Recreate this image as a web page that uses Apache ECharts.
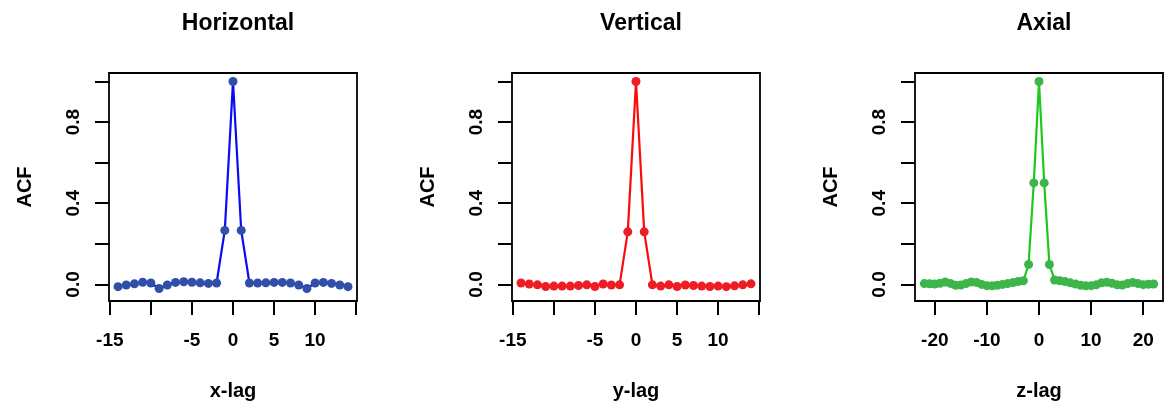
<!DOCTYPE html>
<html>
<head>
<meta charset="utf-8">
<script src="https://cdn.jsdelivr.net/npm/echarts@6/dist/echarts.min.js"></script>
<style>
  html, body { margin: 0; padding: 0; background: #fff; }
  #chart { width: 1169px; height: 411px; }
</style>
</head>
<body>
<div id="chart"></div>
<script>
// lags shown in each panel
const lagsXY = [-14, -13, -12, -11, -10, -9, -8, -7, -6, -5, -4, -3, -2, -1, 0,
  1, 2, 3, 4, 5, 6, 7, 8, 9, 10, 11, 12, 13, 14];
const lagsZ = [-22, -21, -20, -19, -18, -17, -16, -15, -14, -13, -12, -11, -10, -9, -8,
  -7, -6, -5, -4, -3, -2, -1, 0, 1, 2, 3, 4, 5, 6, 7, 8, 9, 10, 11, 12, 13, 14, 15,
  16, 17, 18, 19, 20, 21, 22];

// ACF values
const acfHorizontal = [-0.011, -0.003, 0.003, 0.011, 0.007, -0.020, -0.003, 0.010, 0.013,
  0.011, 0.008, 0.005, 0.007, 0.266, 1.0, 0.266, 0.007, 0.007, 0.008, 0.010, 0.010,
  0.007, -0.003, -0.020, 0.007, 0.010, 0.005, -0.003, -0.011];
const acfVertical = [0.007, 0.002, -0.002, -0.010, -0.008, -0.008, -0.008, -0.005, -0.002,
  -0.010, 0.002, -0.003, -0.002, 0.259, 1.0, 0.259, -0.002, -0.008, -0.002, -0.010,
  -0.003, -0.005, -0.008, -0.010, -0.008, -0.011, -0.007, -0.002, 0.003];
const acfAxial = [0.004, 0.003, 0.002, 0.006, 0.012, 0.005, -0.004, -0.003, 0.004, 0.012,
  0.010, 0.000, -0.006, -0.007, -0.004, 0.000, 0.004, 0.009, 0.014, 0.018, 0.098, 0.500,
  1.0, 0.500, 0.098, 0.022, 0.018, 0.014, 0.008, 0.002, -0.004, -0.007, -0.006, -0.002,
  0.008, 0.011, 0.006, -0.002, -0.003, 0.004, 0.010, 0.004, -0.001, 0.001, 0.002];

const titles = ['Horizontal', 'Vertical', 'Axial'];
const xNames = ['x-lag', 'y-lag', 'z-lag'];
const yTicks = [0, 0.2, 0.4, 0.6, 0.8, 1.0];
const yLabels = [0, 0.4, 0.8];
const xTicksXY = [-15, -10, -5, 0, 5, 10, 15];
const xLabelsXY = [-15, -5, 0, 5, 10];
const xTicksZ = [-20, -10, 0, 10, 20];

const FONT = '"Liberation Sans", Arial, Helvetica, sans-serif';
const lefts = [109, 512, 915];
const W = 248;

const panels = [
  { lags: lagsXY, vals: acfHorizontal, ext: 15.1, ticks: xTicksXY, labels: xLabelsXY,
    line: '#0a0af5', point: '#2f4fa8' },
  { lags: lagsXY, vals: acfVertical, ext: 15.1, ticks: xTicksXY, labels: xLabelsXY,
    line: '#ff0a0a', point: '#ee1c25' },
  { lags: lagsZ, vals: acfAxial, ext: 23.8, ticks: xTicksZ, labels: xTicksZ,
    line: '#1ec81e', point: '#3db54a' }
];

const chart = echarts.init(document.getElementById('chart'), null, { renderer: 'canvas' });

const option = {
  animation: false,
  backgroundColor: '#fff',
  title: titles.map((t, i) => ({
    text: t,
    left: lefts[i] + W / 2,
    top: 7,
    textAlign: 'center',
    textStyle: { fontFamily: FONT, fontWeight: 'bold', fontSize: 23, color: '#000' }
  })),
  grid: panels.map((p, i) => ({
    left: lefts[i], top: 73, width: W, height: 228,
    show: true, borderColor: '#000', borderWidth: 1.8, backgroundColor: 'transparent'
  })),
  xAxis: panels.map((p, i) => ({
    type: 'value', gridIndex: i, min: -p.ext, max: p.ext, position: 'bottom',
    name: xNames[i], nameLocation: 'middle', nameGap: 80,
    nameTextStyle: { fontFamily: FONT, fontWeight: 'bold', fontSize: 20, color: '#000' },
    axisLine: { show: false, onZero: false },
    splitLine: { show: false },
    axisTick: { show: true, inside: false, length: 14, customValues: p.ticks,
      lineStyle: { color: '#000', width: 2 } },
    axisLabel: { customValues: p.labels, margin: 30,
      fontFamily: FONT, fontWeight: 'bold', fontSize: 19, color: '#000' }
  })),
  yAxis: panels.map((p, i) => ({
    type: 'value', gridIndex: i, min: -0.0816, max: 1.0416, position: 'left',
    name: 'ACF', nameLocation: 'middle', nameGap: 74, nameRotate: 90,
    nameTextStyle: { fontFamily: FONT, fontWeight: 'bold', fontSize: 20, color: '#000' },
    axisLine: { show: false, onZero: false },
    splitLine: { show: false },
    axisTick: { show: true, inside: false, length: 14, customValues: yTicks,
      lineStyle: { color: '#000', width: 2 } },
    axisLabel: { customValues: yLabels, rotate: 90, margin: 26,
      formatter: v => v.toFixed(1),
      fontFamily: FONT, fontWeight: 'bold', fontSize: 19, color: '#000' }
  })),
  series: panels.map((p, i) => ({
    type: 'line', xAxisIndex: i, yAxisIndex: i,
    data: p.lags.map((l, k) => [l, p.vals[k]]),
    symbol: 'circle', symbolSize: 9, showSymbol: true,
    lineStyle: { color: p.line, width: 2.2 },
    itemStyle: { color: p.point },
    z: 3
  }))
};

chart.setOption(option);
</script>
</body>
</html>
